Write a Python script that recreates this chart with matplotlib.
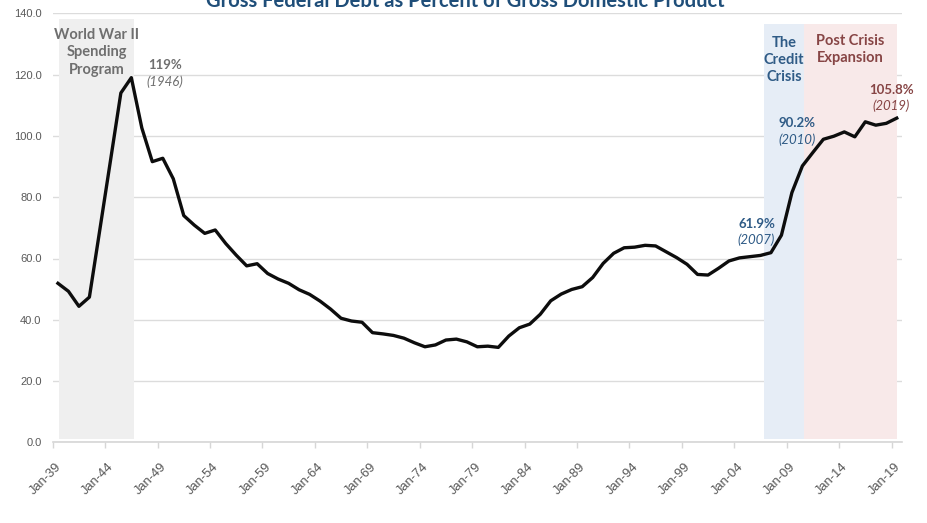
import matplotlib
matplotlib.use("Agg")
import matplotlib.pyplot as plt

# Gross federal debt as a share of GDP, one value per year (January)
years = list(range(1939, 2020))
debt_pct = [
    51.9, 49.3, 44.4, 47.4, 69.5, 91.7, 114.0, 119.0, 102.6, 91.6,
    92.7, 86.0, 74.0, 70.9, 68.2, 69.3, 64.9, 61.1, 57.6, 58.3,
    55.1, 53.3, 51.9, 49.8, 48.3, 46.1, 43.5, 40.5, 39.6, 39.2,
    35.8, 35.4, 34.9, 34.0, 32.5, 31.2, 31.8, 33.4, 33.7, 32.8,
    31.2, 31.4, 31.0, 34.7, 37.4, 38.6, 41.8, 46.2, 48.4, 49.9,
    50.8, 53.8, 58.4, 61.7, 63.5, 63.7, 64.3, 64.1, 62.2, 60.3,
    58.1, 54.8, 54.6, 56.8, 59.2, 60.2, 60.6, 61.0, 61.9, 67.6,
    81.5, 90.2, 94.6, 98.9, 99.9, 101.3, 99.7, 104.6, 103.5, 104.1,
    105.8,
]

tick_years = list(range(1939, 2020, 5))
tick_labels = [f"Jan-{y % 100:02d}" for y in tick_years]
y_ticks = [0, 20, 40, 60, 80, 100, 120, 140]

# Highlighted periods
period_labels = ["World War II\nSpending\nProgram", "The\nCredit\nCrisis", "Post Crisis\nExpansion"]
period_start = [1939.13, 2006.3, 2010.2]
period_end = [1946.28, 2010.2, 2019.0]
period_top = [138.0, 136.5, 136.5]
period_label_y = [127.3, 124.7, 128.1]
period_fill = ["#efefef", "#e6edf6", "#f8e9e9"]
period_text = ["#6f6f6f", "#2f5b86", "#874545"]

# Called-out values
callout_years = [1946, 2007, 2010, 2019]
callout_values = [119.0, 61.9, 90.2, 105.8]
callout_fmt = ["{:.0f}%", "{:.1f}%", "{:.1f}%", "{:.1f}%"]
callout_color = ["#6f6f6f", "#2f5b86", "#2f5b86", "#874545"]
callout_value_offset = [(24, 9), (-10, 21), (-4, 31), (-4, 20)]
callout_year_offset = [(24, -3), (-11, 9), (-4, 19), (-4, 9)]

ANNOT_FONT = "Lato"
TICK_FONT = "Liberation Sans"

fig = plt.figure(figsize=(9.27, 5.23), dpi=100)
ax = fig.add_axes([52.7 / 927, 1 - 442.4 / 523, (902 - 52.7) / 927, (442.4 - 13.3) / 523])

# shaded periods
for s, e, top, c in zip(period_start, period_end, period_top, period_fill):
    ax.bar((s + e) / 2, top - 1.0, width=e - s, bottom=1.0, color=c, zorder=1, linewidth=0)

for s, e, yv, lab, c in zip(period_start, period_end, period_label_y, period_labels, period_text):
    ax.text((s + e) / 2, yv, lab, ha="center", va="center", fontsize=10.5,
            fontweight="bold", color=c, family=ANNOT_FONT, linespacing=1.3, zorder=4)

# debt line
ax.plot(years, debt_pct, color="#0d0d0d", lw=2.4, solid_joinstyle="round", zorder=3)

# callouts
for yr, val, fmt, c, vo, yo in zip(callout_years, callout_values, callout_fmt,
                                    callout_color, callout_value_offset, callout_year_offset):
    ax.annotate(fmt.format(val), xy=(yr, val), xytext=vo, textcoords="offset points",
                ha="center", va="center", fontsize=9.5, fontweight="bold", color=c,
                family=ANNOT_FONT, zorder=4)
    ax.annotate(f"({yr})", xy=(yr, val), xytext=yo, textcoords="offset points",
                ha="center", va="center", fontsize=9.5, fontstyle="italic", color=c,
                family=ANNOT_FONT, zorder=4)

# axes styling
ax.set_xlim(1938.5, 2019.5)
ax.set_ylim(0, 140)
ax.set_yticks(y_ticks)
ax.set_yticklabels([f"{v:.1f}" for v in y_ticks], fontsize=8, color="#595959", family=TICK_FONT)
ax.tick_params(axis="y", length=0, pad=8)
ax.yaxis.grid(True, color="#dcdcdc", lw=1.0, zorder=0)
ax.set_axisbelow(True)

ax.set_xticks([y - 0.5 for y in tick_years])
ax.set_xticklabels([])
ax.tick_params(axis="x", length=4, width=1.0, color="#d6d6d6", direction="out")
for t, lab in zip(tick_years, tick_labels):
    ax.annotate(lab, xy=(t - 0.5, 0), xycoords=("data", "axes fraction"),
                xytext=(5, -16), textcoords="offset points", rotation=45,
                ha="right", va="center", rotation_mode="anchor",
                fontsize=9.3, color="#555555", family=TICK_FONT, annotation_clip=False)

for side in ["left", "right", "top"]:
    ax.spines[side].set_visible(False)
ax.spines["bottom"].set_color("#d6d6d6")
ax.spines["bottom"].set_linewidth(1.2)

fig.text(0.5016, 1 - 7 / 523, "Gross Federal Debt as Percent of Gross Domestic Product",
         ha="center", va="baseline", fontsize=14.5, fontweight="bold", color="#1f4e79",
         family=ANNOT_FONT)

fig.savefig("out.png", dpi=100, facecolor="white")
